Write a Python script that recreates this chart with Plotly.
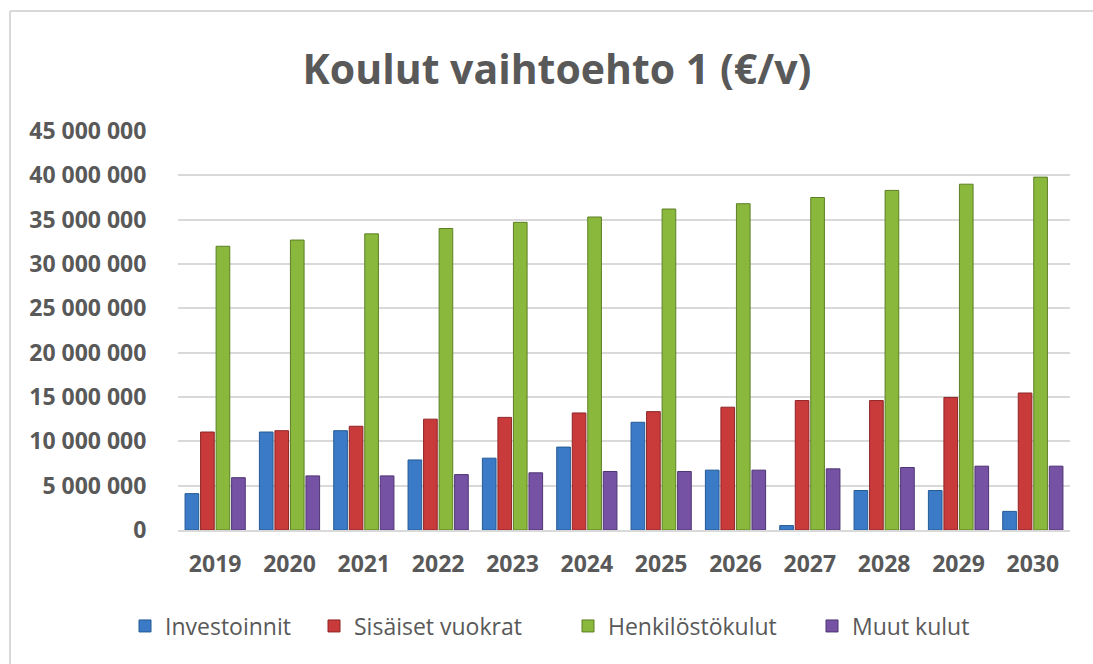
import plotly.graph_objects as go

# Years on the category axis
years = ["2019", "2020", "2021", "2022", "2023", "2024",
         "2025", "2026", "2027", "2028", "2029", "2030"]

# Annual costs per category (€)
investoinnit = [4.1e6, 11.05e6, 11.2e6, 7.9e6, 8.1e6, 9.35e6,
                12.15e6, 6.75e6, 0.5e6, 4.45e6, 4.45e6, 2.1e6]
sisaiset_vuokrat = [11.05e6, 11.2e6, 11.7e6, 12.5e6, 12.7e6, 13.2e6,
                    13.35e6, 13.85e6, 14.6e6, 14.6e6, 14.95e6, 15.45e6]
henkilostokulut = [32.0e6, 32.7e6, 33.4e6, 34.0e6, 34.7e6, 35.3e6,
                   36.2e6, 36.8e6, 37.5e6, 38.3e6, 39.0e6, 39.8e6]
muut_kulut = [5.9e6, 6.1e6, 6.1e6, 6.25e6, 6.45e6, 6.6e6,
              6.6e6, 6.75e6, 6.9e6, 7.05e6, 7.2e6, 7.2e6]

series = [
    ("Investoinnit", investoinnit, "#3b7ac6", "#245a94"),
    ("Sisäiset vuokrat", sisaiset_vuokrat, "#c93a3b", "#8e2526"),
    ("Henkilöstökulut", henkilostokulut, "#8ab83c", "#5d7f25"),
    ("Muut kulut", muut_kulut, "#7652a4", "#4f3573"),
]

W, H = 1093, 664
L, R, T, B = 178, 1070, 131, 530  # plot area in pixels
TEXT = "#595959"
FONT = "Open Sans"

# left edge (px) of each legend entry along the bottom row
legend_left = [125, 314, 568, 812]


def px_x(x):
    return (x - L) / (R - L)


def px_y(y):
    return (B - y) / (B - T)


fig = go.Figure()
legend_layouts = {}
for i, (name, vals, fill, edge) in enumerate(series):
    key = "legend" if i == 0 else f"legend{i + 1}"
    fig.add_trace(go.Bar(
        x=years, y=vals, name=name, legend=key, showlegend=True,
        marker=dict(color=fill, line=dict(color=edge, width=1)),
    ))
    legend_layouts[key] = dict(
        orientation="h", xanchor="left", yanchor="middle",
        x=px_x(legend_left[i]), y=px_y(626),
        font=dict(family=FONT, size=23, color=TEXT),
        itemwidth=30, bgcolor="rgba(0,0,0,0)", visible=True,
    )

# Chart frame (top and left edges)
frame = dict(color="#d9d9d9", width=2)
fig.add_shape(type="line", xref="paper", yref="paper",
              x0=px_x(10), x1=px_x(W), y0=px_y(11), y1=px_y(11), line=frame)
fig.add_shape(type="line", xref="paper", yref="paper",
              x0=px_x(10), x1=px_x(10), y0=px_y(11), y1=px_y(H), line=frame)

fig.update_layout(
    width=W, height=H,
    margin=dict(l=L, r=W - R, t=T, b=H - B, pad=0),
    paper_bgcolor="white", plot_bgcolor="white",
    showlegend=True,
    separators=", ",
    barmode="group", bargap=0.165, bargroupgap=0.12,
    title=dict(text="<b>Koulut vaihtoehto 1 (€/v)</b>",
               font=dict(family=FONT, size=41, color=TEXT),
               xref="container", yref="container",
               x=557 / W, y=1 - 70 / H, xanchor="center", yanchor="middle"),
    xaxis=dict(type="category", showgrid=False, showline=True,
               linecolor="#d9d9d9", linewidth=1.5,
               ticks="outside", ticklen=13, tickcolor="rgba(0,0,0,0)",
               tickfont=dict(family=FONT, size=23, color=TEXT),
               tickprefix="<b>", ticksuffix="</b>"),
    yaxis=dict(range=[0, 45e6], dtick=5e6, tickformat=",d",
               showgrid=True, gridcolor="#d9d9d9", gridwidth=1.5,
               zeroline=False, showline=False,
               ticks="outside", ticklen=26, tickcolor="rgba(0,0,0,0)",
               tickfont=dict(family=FONT, size=23, color=TEXT),
               tickprefix="<b>", ticksuffix="</b>"),
    **legend_layouts,
)

fig.write_html("out.html")
